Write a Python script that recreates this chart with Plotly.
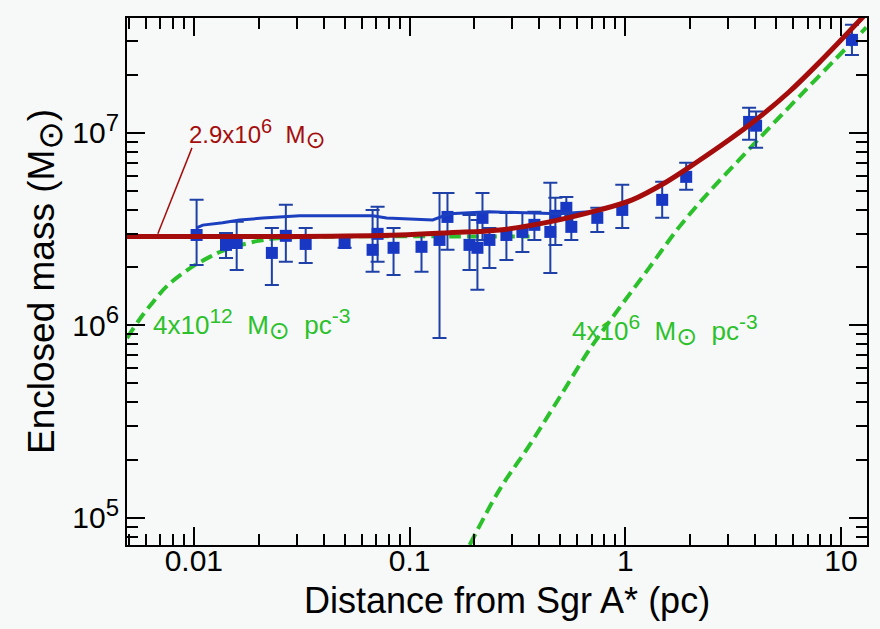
import numpy as np
import plotly.graph_objects as go

# ---------------- data ----------------
# measured enclosed mass (units of 1e6 Msun)
r_pc = [0.0103, 0.0141, 0.0158, 0.0230, 0.0267, 0.0330, 0.0500, 0.0674, 0.0711, 0.0843,
        0.1136, 0.1377, 0.1499, 0.1896, 0.2064, 0.2178, 0.2346, 0.2812, 0.3335, 0.3791,
        0.4494, 0.4742, 0.5331, 0.5623, 0.742, 0.9685, 1.483, 1.916, 3.75, 4.04, 11.24]
mass_m6 = [2.95, 2.62, 2.68, 2.38, 2.92, 2.65, 2.68, 2.47, 2.99, 2.53,
           2.56, 2.78, 3.66, 2.62, 2.53, 3.62, 2.78, 2.95, 3.06, 3.33,
           3.06, 3.71, 4.08, 3.25, 3.62, 3.98, 4.49, 5.91, 11.4, 10.9, 30.4]
mass_hi_m6 = [4.49, 3.02, 3.45, 3.21, 4.23, 3.21, 2.92, 3.98, 4.13, 3.21,
              3.02, 4.88, 4.88, 3.75, 3.53, 4.88, 3.21, 3.84, 3.84, 3.89,
              5.50, 4.60, 4.65, 3.75, 4.08, 5.37, 5.57, 6.99, 13.5, 12.9, 36.4]
mass_lo_m6 = [2.06, 2.24, 1.94, 1.62, 2.14, 2.11, 2.53, 1.90, 2.14, 1.83,
              1.90, 0.861, 2.47, 1.94, 1.53, 2.78, 1.99, 2.19, 2.41, 2.78,
              1.87, 2.62, 3.53, 2.78, 3.06, 3.21, 3.62, 5.06, 9.20, 8.36, 25.4]

# best fit: point mass + cluster (red)
fit_r = [0.0049, 0.031, 0.090, 0.153, 0.261, 0.445, 0.758, 1.077, 1.55, 2.15,
         3.03, 4.04, 5.74, 7.90, 9.48, 13.1]
fit_m6 = [2.90, 2.90, 2.95, 3.03, 3.13, 3.45, 3.98, 4.49, 5.56, 7.06,
          9.21, 11.7, 16.3, 23.1, 28.5, 41.7]

# blue line
blue_r = [0.0103, 0.0110, 0.0136, 0.0163, 0.0209, 0.0270, 0.031, 0.0675, 0.0783, 0.128,
          0.153, 0.234, 0.400, 0.494, 0.681, 0.758]
blue_m6 = [3.21, 3.32, 3.41, 3.53, 3.61, 3.66, 3.71, 3.71, 3.61, 3.53,
           3.80, 3.89, 3.84, 3.80, 3.89, 3.98]

# dense cluster 4e12 Msun/pc^3 (green, left)
g1_r = [0.0049, 0.00562, 0.00646, 0.00750, 0.00958, 0.01186, 0.0136, 0.0196, 0.0258, 0.0527,
        0.153, 0.360]
g1_m6 = [0.86, 1.08, 1.32, 1.60, 1.98, 2.27, 2.44, 2.74, 2.85, 2.90,
         2.90, 2.90]

# cluster 4e6 Msun/pc^3 (green, right)
g2_r = [0.190, 0.261, 0.360, 0.494, 0.681, 0.938, 1.29, 1.78, 2.45, 3.37,
        4.64, 6.39, 9.48, 13.1]
g2_m6 = [0.0724, 0.140, 0.239, 0.420, 0.746, 1.23, 1.99, 3.25, 4.94, 7.24,
         10.6, 15.4, 24.3, 35.3]

# leader line for the point-mass label
lead_r = [0.0098, 0.00681]
lead_m6 = [8.36, 2.99]

x_tickvals = [0.01, 0.1, 1, 10]
x_ticktext = ["0.01", "0.1", "1", "10"]
y_tickvals = [1e5, 1e6, 1e7]
y_exponents = ["5", "6", "7"]

# ---------------- figure ----------------
M = 1e6
RED = "#a50d0d"
GREEN = "#2cc12c"
BLUE_M = "#1838c4"
BLUE_E = "#1f40a6"
FONT = "Liberation Sans, Arial, Helvetica, DejaVu Sans, sans-serif"


def sup(t, size):
    return "<sup><span style='font-size:%dpx'>%s</span></sup>" % (size, t)


def sun(size):
    return "<sub><span style='font-size:%dpx'>⊙</span></sub>" % size


y_ticktext = ["10" + sup(e, 24) for e in y_exponents]

fig = go.Figure()

fig.add_trace(go.Scatter(x=g1_r, y=[v * M for v in g1_m6], mode="lines",
                         line=dict(color=GREEN, width=4, dash="12px,6px", shape="spline"),
                         hoverinfo="skip"))
fig.add_trace(go.Scatter(x=g2_r, y=[v * M for v in g2_m6], mode="lines",
                         line=dict(color=GREEN, width=4, dash="12px,6px", shape="spline"),
                         hoverinfo="skip"))

fig.add_trace(go.Scatter(
    x=r_pc, y=[v * M for v in mass_m6], mode="markers",
    marker=dict(symbol="square", size=12, color=BLUE_M, line=dict(width=0)),
    error_y=dict(type="data", symmetric=False,
                 array=[(h - v) * M for h, v in zip(mass_hi_m6, mass_m6)],
                 arrayminus=[(v - l) * M for l, v in zip(mass_lo_m6, mass_m6)],
                 color=BLUE_E, thickness=2, width=7)))

fig.add_trace(go.Scatter(x=blue_r, y=[v * M for v in blue_m6], mode="lines",
                         line=dict(color="#1b3fbf", width=3), hoverinfo="skip"))

fig.add_trace(go.Scatter(x=fit_r, y=[v * M for v in fit_m6], mode="lines",
                         line=dict(color=RED, width=5, shape="spline"), hoverinfo="skip"))

fig.add_trace(go.Scatter(x=lead_r, y=[v * M for v in lead_m6], mode="lines",
                         line=dict(color=RED, width=1.5), hoverinfo="skip"))


def minor_vals(lo, hi):
    out = []
    for d in range(lo, hi + 1):
        for k in range(2, 10):
            out.append(k * 10.0 ** d)
    return out


x_min, x_max = 0.0049, 13.2
y_min, y_max = 7.24e4, 3.95e7

axis_common = dict(showline=True, linecolor="black", linewidth=2, mirror="allticks",
                   ticks="inside", ticklen=18, tickwidth=2, tickcolor="black",
                   showgrid=False, zeroline=False,
                   tickfont=dict(family=FONT, size=30, color="black"))

fig.update_xaxes(type="log", range=[np.log10(x_min), np.log10(x_max)],
                 tickmode="array", tickvals=x_tickvals, ticktext=x_ticktext,
                 ticklabelstandoff=-12,
                 minor=dict(tickmode="array", tickvals=minor_vals(-3, 1),
                            ticks="inside", ticklen=11, tickwidth=2, tickcolor="black"),
                 **axis_common)
fig.update_yaxes(type="log", range=[np.log10(y_min), np.log10(y_max)],
                 tickmode="array", tickvals=y_tickvals, ticktext=y_ticktext,
                 minor=dict(tickmode="array", tickvals=minor_vals(4, 7),
                            ticks="inside", ticklen=11, tickwidth=2, tickcolor="black"),
                 **axis_common)

W, H = 880, 629
L, R, T, B = 127, 13, 18, 84


def px(xp):
    return (xp - L) / (W - L - R)


def py(yp):
    return 1 - (yp - T) / (H - T - B)


annotations = [
    dict(text="2.9x10" + sup("6", 20) + "&nbsp; M" + sun(24), x=px(187), y=py(134),
         font=dict(family=FONT, size=24, color=RED)),
    dict(text="4x10" + sup("12", 21) + "&nbsp; M" + sun(25) + "&nbsp; pc" + sup("-3", 21),
         x=px(151), y=py(324), font=dict(family=FONT, size=26, color=GREEN)),
    dict(text="4x10" + sup("6", 21) + "&nbsp; M" + sun(25) + "&nbsp; pc" + sup("-3", 21),
         x=px(570), y=py(330), font=dict(family=FONT, size=26, color=GREEN)),
]
for a in annotations:
    a.update(xref="paper", yref="paper", xanchor="left", yanchor="middle", showarrow=False)

annotations.append(dict(text="Distance from Sgr A* (pc)", x=px(507), y=py(600),
                        xref="paper", yref="paper", xanchor="center", yanchor="middle",
                        showarrow=False, font=dict(family=FONT, size=36, color="black")))
annotations.append(dict(text="Enclosed mass (M" + sun(34) + ")", x=px(45), y=py(282),
                        xref="paper", yref="paper", xanchor="center", yanchor="middle",
                        textangle=-90, showarrow=False,
                        font=dict(family=FONT, size=37, color="black")))

fig.update_layout(width=W, height=H, margin=dict(l=L, r=R, t=T, b=B),
                  paper_bgcolor="#f6f9f7", plot_bgcolor="#f6f9f7",
                  showlegend=False, annotations=annotations,
                  font=dict(family=FONT, color="black"))

fig.write_html("out.html")
